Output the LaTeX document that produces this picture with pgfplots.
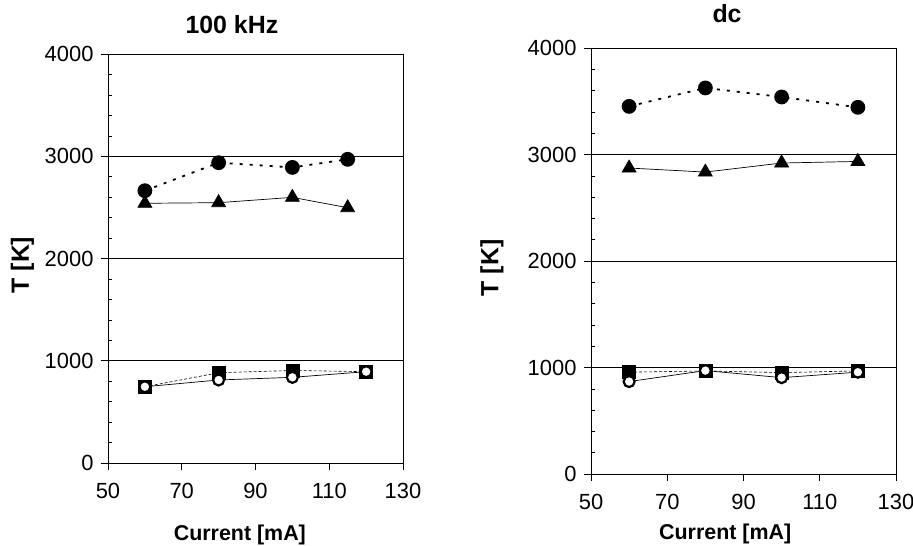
\documentclass[border=0pt]{standalone}
\usepackage{fontspec}
\setmainfont{Liberation Sans}
\usepackage{pgfplots}
\pgfplotsset{compat=1.18}

\pgfplotsset{
  panel/.style={
    scale only axis, anchor=south west,
    xmin=50, xmax=130, ymin=0, ymax=4000,
    xtick={50,70,...,130}, ytick={0,1000,...,4000},
    xtick pos=bottom, ytick pos=left,
    tick align=outside, major tick length=7bp,
    ymajorgrids, grid style={black, line width=0.7bp},
    axis line style={line width=0.8bp},
    tick style={black, line width=0.8bp},
    extra y ticks={200,400,600,800,1200,1400,1600,1800,2200,2400,2600,2800,3200,3400,3600,3800},
    extra y tick labels={},
    extra y tick style={tick align=inside, major tick length=4bp, grid=none, tick style={line width=0.6bp}},
    /pgf/number format/assume math mode=true,
    /pgf/number format/set thousands separator={},
    ticklabel style={font=\fontsize{22}{24}\selectfont},
    xticklabel style={yshift=-10bp},
    yticklabel style={xshift=-4bp},
    xlabel style={font=\fontsize{21.5}{24}\selectfont\bfseries, anchor=center},
    ylabel style={font=\fontsize{25}{28}\selectfont\bfseries, anchor=center},
    title style={font=\fontsize{25}{28}\selectfont\bfseries, anchor=center},
    every axis plot/.append style={black},
  },
  fc/.style={mark=*, mark size=6.5bp, line width=1.8bp, dash pattern=on 3bp off 7bp, mark options={solid, fill=black}},
  tr/.style={mark=triangle*, mark size=8bp, line width=0.7bp, mark options={solid, fill=black}},
  sq/.style={mark=square*, mark size=6.5bp, line width=0.6bp, dash pattern=on 3bp off 2bp, mark options={solid, fill=black}},
  oc/.style={mark=*, mark size=5.5bp, line width=0.7bp, mark options={solid, fill=white, line width=2.2bp}},
}

\begin{document}
\begin{tikzpicture}
\useasboundingbox (0bp,0bp) rectangle (913bp,-546bp);

\begin{axis}[panel, at={(108bp,-463bp)}, width=295bp, height=409bp,
    title={100 kHz}, title style={at={(axis description cs:0.42,1.058)}},
    xlabel={Current [mA]}, xlabel style={at={(axis description cs:0.447,-0.176)}},
    ylabel={T [K]}, ylabel style={at={(axis description cs:-0.29,0.484)}}]
\addplot[fc] coordinates {(60,2663) (80,2937) (100,2891) (115,2970)};
\addplot[tr] coordinates {(60,2540) (80,2546) (100,2598) (115,2497)};
\addplot[sq] coordinates {(60,746) (80,883) (100,905) (120,893)};
\addplot[oc] coordinates {(60,746) (80,812) (100,838) (120,893)};
\end{axis}

\begin{axis}[panel, at={(591bp,-474bp)}, width=305bp, height=426bp,
    title={dc}, title style={at={(axis description cs:0.446,1.066)}},
    xlabel={Current [mA]}, xlabel style={at={(axis description cs:0.44,-0.141)}},
    ylabel={T [K]}, ylabel style={at={(axis description cs:-0.325,0.484)}}]
\addplot[fc] coordinates {(60,3452) (80,3625) (100,3540) (120,3443)};
\addplot[tr] coordinates {(60,2873) (80,2835) (100,2920) (120,2935)};
\addplot[sq] coordinates {(60,956) (80,968) (100,952) (120,968)};
\addplot[oc] coordinates {(60,868) (80,971) (100,905) (120,956)};
\end{axis}
\end{tikzpicture}
\end{document}
